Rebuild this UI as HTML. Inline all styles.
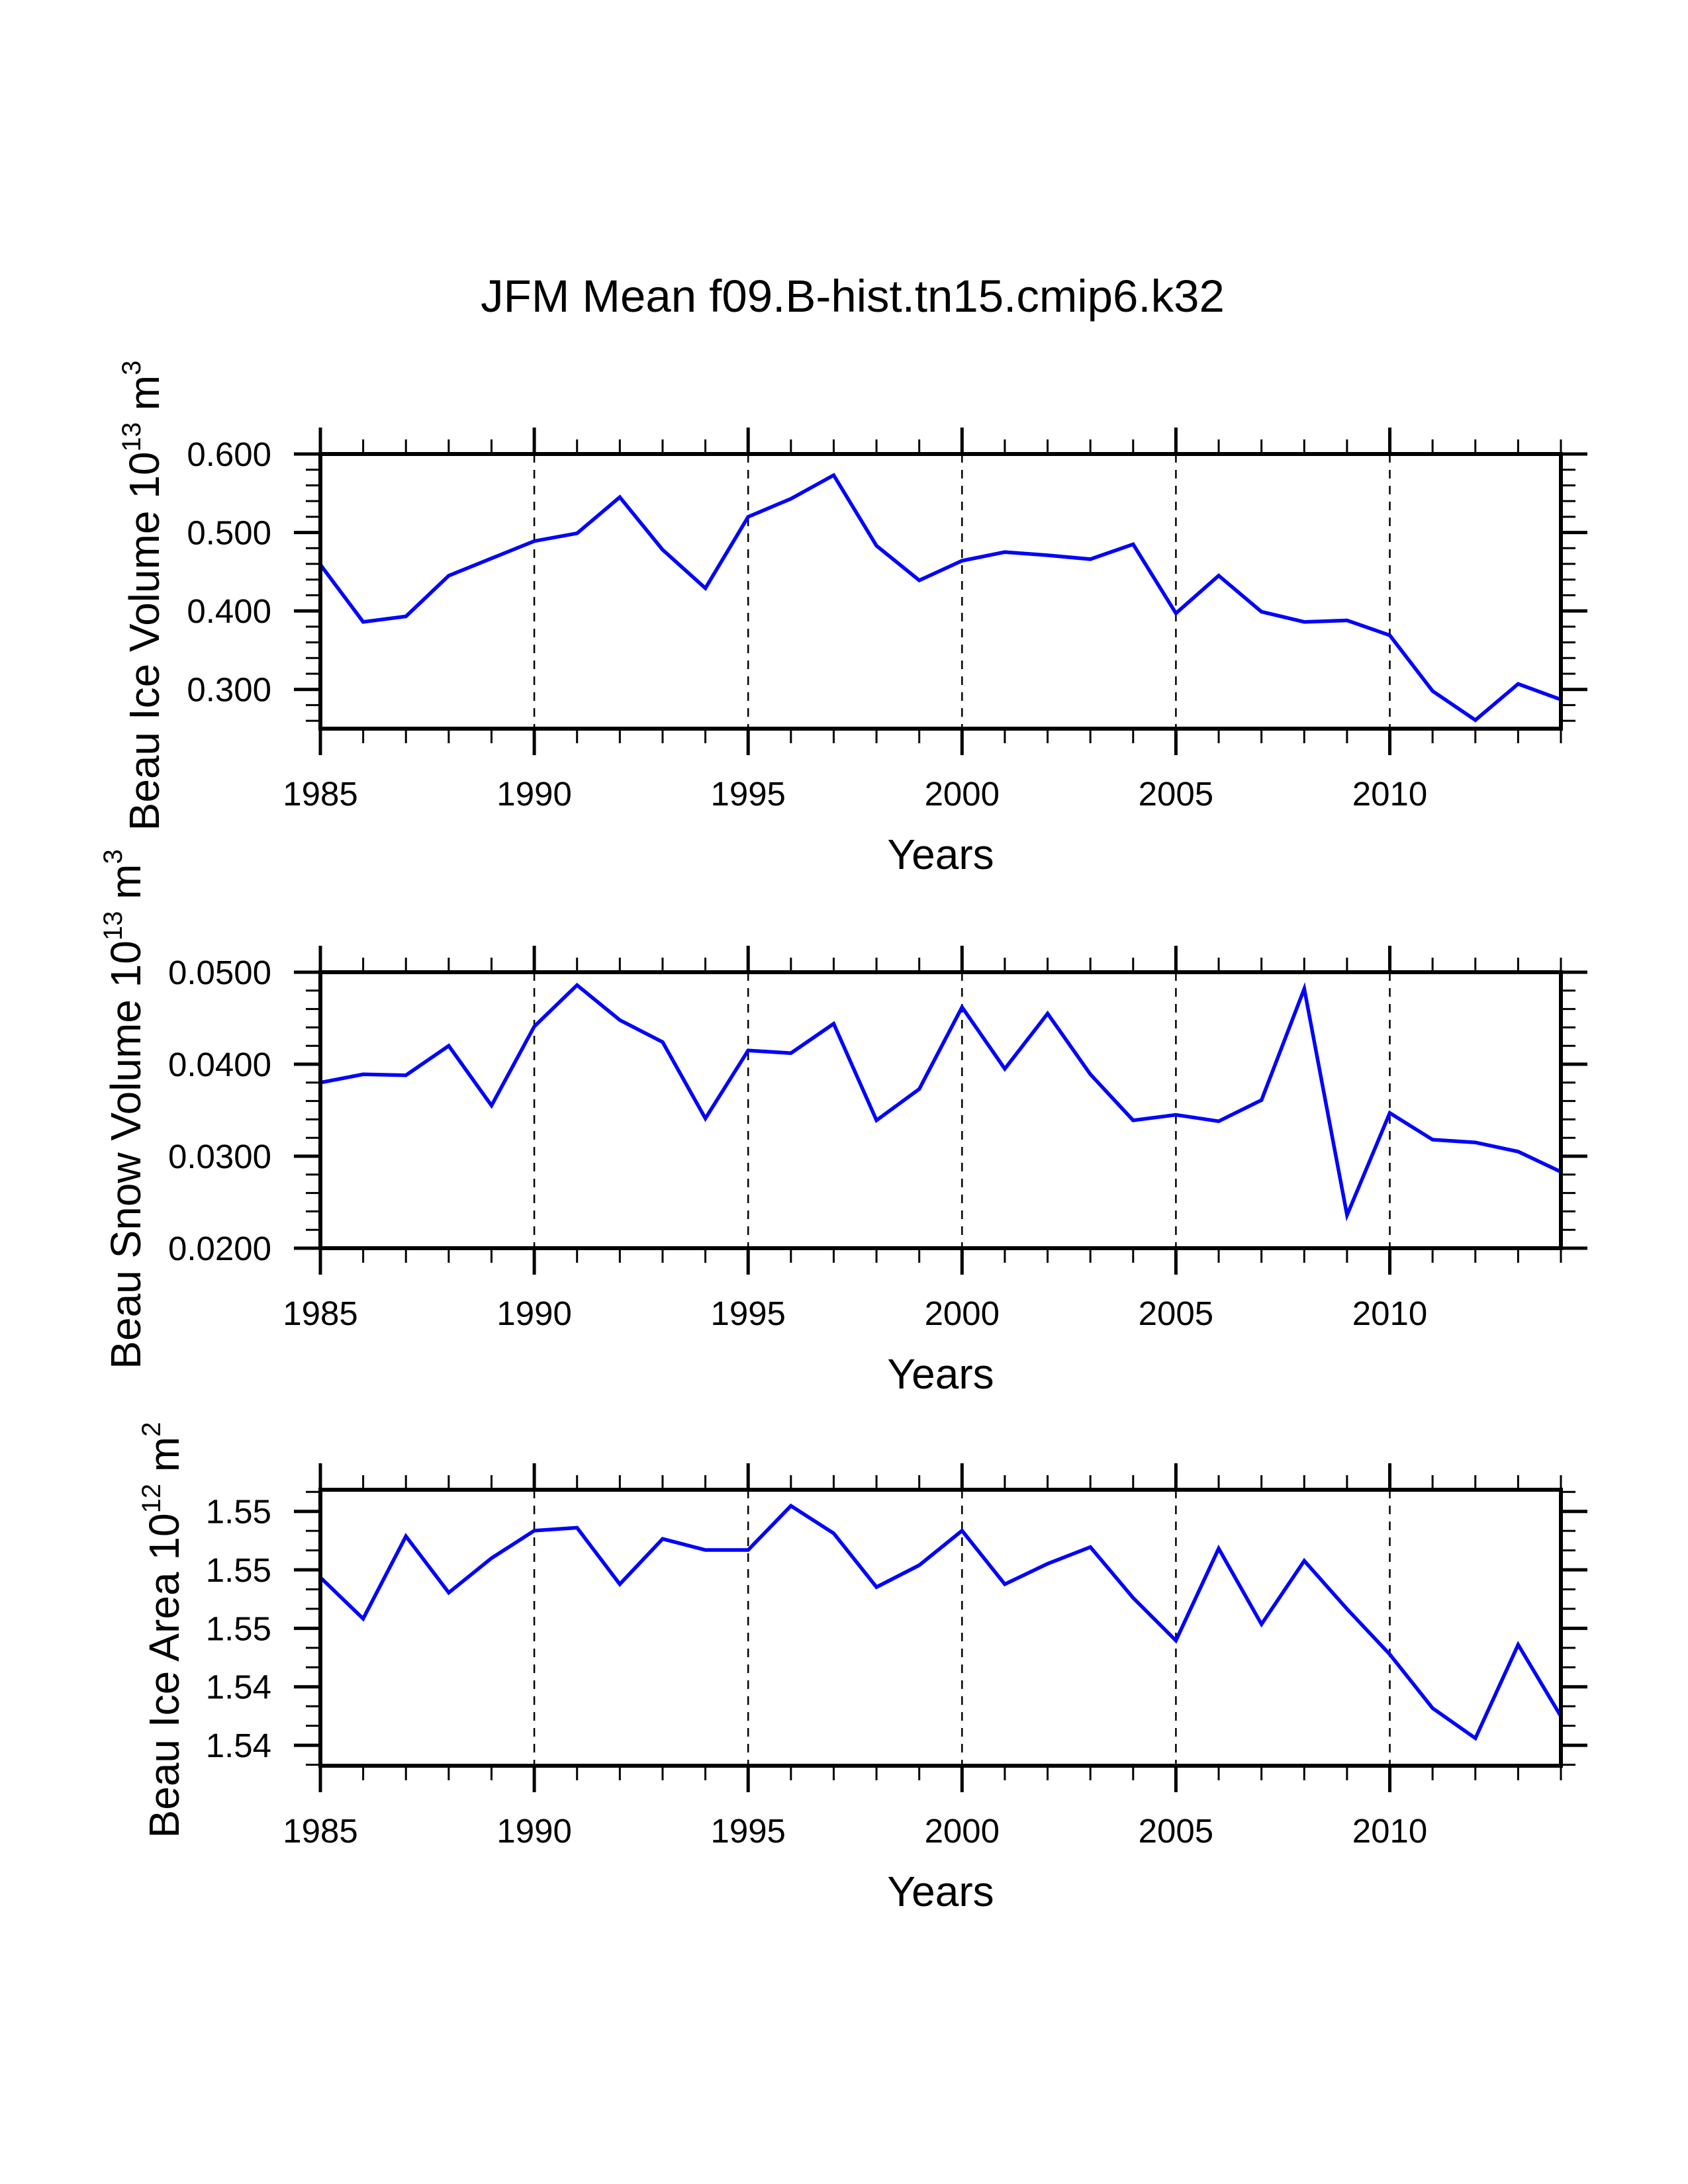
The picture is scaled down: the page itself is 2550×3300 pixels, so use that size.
<!DOCTYPE html>
<html><head><meta charset="utf-8"><style>
html,body{margin:0;padding:0;background:#fff;}
svg{display:block;font-family:"Liberation Sans",Arial,sans-serif;}
</style></head><body>
<svg id="chart" width="2550" height="3300" viewBox="0 0 2550 3300" xmlns="http://www.w3.org/2000/svg">
<rect width="2550" height="3300" fill="#fff"/>
<text x="1288" y="471" font-size="69" text-anchor="middle">JFM Mean f09.B-hist.tn15.cmip6.k32</text>
</svg>
<script>
const years = [1985,1986,1987,1988,1989,1990,1991,1992,1993,1994,1995,1996,1997,1998,1999,2000,2001,2002,2003,2004,2005,2006,2007,2008,2009,2010,2011,2012,2013,2014];
const iceVolume = [0.459,0.386,0.393,0.445,0.467,0.489,0.499,0.545,0.478,0.429,0.520,0.543,0.573,0.483,0.439,0.464,0.475,0.471,0.466,0.485,0.397,0.445,0.399,0.386,0.388,0.369,0.298,0.261,0.307,0.287];
const snowVolume = [0.0380,0.0389,0.0388,0.0420,0.0355,0.0441,0.0486,0.0448,0.0424,0.0341,0.0415,0.0412,0.0444,0.0339,0.0373,0.0462,0.0395,0.0455,0.0389,0.0339,0.0345,0.0338,0.0361,0.0482,0.0236,0.0347,0.0318,0.0315,0.0305,0.0283];
const iceArea = [1.54774,1.54633,1.54915,1.54722,1.54840,1.54934,1.54944,1.54751,1.54906,1.54868,1.54868,1.55019,1.54925,1.54741,1.54816,1.54934,1.54751,1.54821,1.54878,1.54704,1.54558,1.54873,1.54614,1.54831,1.54666,1.54511,1.54327,1.54224,1.54544,1.54299];
const xTickYears = [1985,1990,1995,2000,2005,2010];
const volTicks = [0.3,0.4,0.5,0.6];
const volTickLabels = ["0.300","0.400","0.500","0.600"];
const snowTicks = [0.02,0.03,0.04,0.05];
const snowTickLabels = ["0.0200","0.0300","0.0400","0.0500"];
const areaTicks = [1.542,1.544,1.546,1.548,1.550];
const areaTickLabels = ["1.54","1.54","1.55","1.55","1.55"];

const NS = "http://www.w3.org/2000/svg";
const svg = document.getElementById('chart');
const X0 = 484, X1 = 2358;
function xs(yr){ return X0 + (yr - 1985) * (X1 - X0) / (2014 - 1985); }
function mk(tag, attrs, parent){
  const e = document.createElementNS(NS, tag);
  for (const k in attrs) e.setAttribute(k, attrs[k]);
  (parent || svg).appendChild(e);
  return e;
}

function panel(cfg){
  const g = mk('g', {});
  
  
  const ys = v => cfg.bot - (v - cfg.ymin) * (cfg.bot - cfg.top) / (cfg.ymax - cfg.ymin);
  for (const yr of xTickYears) {
    if (yr === 1985) continue;
    const l = mk('line', {x1: xs(yr), x2: xs(yr), y1: cfg.top, y2: cfg.bot, stroke: '#000', 'stroke-width': 2.5, 'stroke-dasharray': '13 11'}, g);
    
    
  }
  const pts = cfg.values.map((v, i) => xs(years[i]).toFixed(1) + ',' + ys(v).toFixed(1)).join(' ');
  const pl = mk('polyline', {points: pts, fill: 'none', stroke: '#0000ff', 'stroke-width': 5.5, 'stroke-linejoin': 'miter'}, g);
  
  
  const fr = mk('rect', {x: X0, y: cfg.top, width: X1 - X0, height: cfg.bot - cfg.top, fill: 'none', stroke: '#000', 'stroke-width': 6}, g);
  
  
  for (let yr = 1985; yr <= 2014; yr++) {
    const major = (yr % 5 === 0);
    const len = major ? 40 : 22, w = major ? 5 : 3;
    mk('line', {x1: xs(yr), x2: xs(yr), y1: cfg.top, y2: cfg.top - len, stroke: '#000', 'stroke-width': w}, g);
    mk('line', {x1: xs(yr), x2: xs(yr), y1: cfg.bot, y2: cfg.bot + len, stroke: '#000', 'stroke-width': w}, g);
  }
  for (const yr of xTickYears) {
    const t = mk('text', {x: xs(yr), y: cfg.bot + 116, 'font-size': 51, 'text-anchor': 'middle'}, g);
    t.textContent = String(yr);
    
    
  }
  const xt = mk('text', {x: 1421, y: cfg.bot + 212, 'font-size': 64, 'text-anchor': 'middle'}, g);
  xt.textContent = 'Years';
  
  
  const nMinor = cfg.minor;
  const step = cfg.ticks[1] - cfg.ticks[0];
  const mstep = step / nMinor;
  const start = cfg.ticks[0] - Math.floor((cfg.ticks[0] - cfg.ymin) / mstep + 1e-6) * mstep;
  for (let v = start; v <= cfg.ymax + 1e-9; v += mstep) {
    const y = ys(v);
    mk('line', {x1: X0, x2: X0 - 22, y1: y, y2: y, stroke: '#000', 'stroke-width': 3}, g);
    mk('line', {x1: X1, x2: X1 + 22, y1: y, y2: y, stroke: '#000', 'stroke-width': 3}, g);
  }
  cfg.ticks.forEach((v, i) => {
    const y = ys(v);
    mk('line', {x1: X0, x2: X0 - 40, y1: y, y2: y, stroke: '#000', 'stroke-width': 5}, g);
    mk('line', {x1: X1, x2: X1 + 40, y1: y, y2: y, stroke: '#000', 'stroke-width': 5}, g);
    const t = mk('text', {x: 410, y: y + 18, 'font-size': 51, 'text-anchor': 'end'}, g);
    t.textContent = cfg.labels[i];
    
    
  });
  const yt = mk('text', {transform: 'translate(' + cfg.tx + ',' + cfg.ty + ') rotate(-90)', 'font-size': 64, 'text-anchor': 'middle'}, g);
  
  
  const parts = [[cfg.title + ' 10', 0], [cfg.exp, 1], [' m', 0], [cfg.unitExp, 1]];
  for (const [s, sup] of parts) {
    const ts = mk('tspan', sup ? {'font-size': 40, dy: -28} : {dy: 28}, yt);
    if (!sup && s === cfg.title + ' 10') ts.setAttribute('dy', 0);
    ts.textContent = s;
  }
}

panel({name: 'ice-volume', top: 686, bot: 1101, ymin: 0.25, ymax: 0.6, values: iceVolume, ticks: volTicks, labels: volTickLabels, minor: 5, title: 'Beau Ice Volume', exp: '13', unitExp: '3', tx: 240, ty: 900});
panel({name: 'snow-volume', top: 1469, bot: 1886, ymin: 0.02, ymax: 0.05, values: snowVolume, ticks: snowTicks, labels: snowTickLabels, minor: 5, title: 'Beau Snow Volume', exp: '13', unitExp: '3', tx: 212, ty: 1676});
panel({name: 'ice-area', top: 2251, bot: 2668, ymin: 1.5413, ymax: 1.55074, values: iceArea, ticks: areaTicks, labels: areaTickLabels, minor: 3, title: 'Beau Ice Area', exp: '12', unitExp: '2', tx: 270, ty: 2463});
</script>
</body></html>
